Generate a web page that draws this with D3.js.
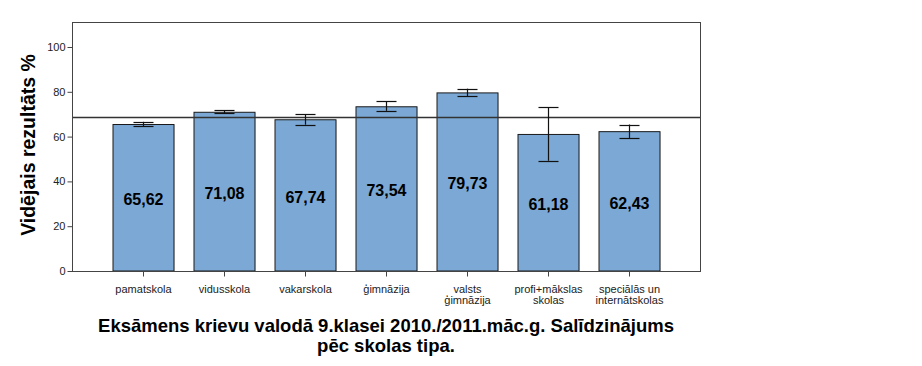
<!DOCTYPE html>
<html><head><meta charset="utf-8">
<script src="https://cdn.jsdelivr.net/npm/d3@7"></script>
<style>body{margin:0;background:#fff}svg{display:block}text{font-family:Arial,"Liberation Sans",sans-serif}</style>
</head><body>
<svg id="c" width="922" height="366"></svg>
<script>
const categories = [["pamatskola"],["vidusskola"],["vakarskola"],["ģimnāzija"],["valsts","ģimnāzija"],["profi+mākslas","skolas"],["speciālās un","internātskolas"]];
const values = [65.62, 71.08, 67.74, 73.54, 79.73, 61.18, 62.43];
const errLow = [64.6, 70.4, 65.3, 71.5, 78.1, 49.2, 59.4];
const errHigh = [66.6, 71.8, 70.1, 75.7, 81.4, 73.2, 65.4];
const refValue = 68.9;
const yTicks = [0, 20, 40, 60, 80, 100];
const title = ["Eksāmens krievu valodā 9.klasei 2010./2011.māc.g. Salīdzinājums", "pēc skolas tipa."];
const yTitle = "Vidējais rezultāts %";

const svg = d3.select("#c");
const L = 72, R = 700, T = 22, B = 271;
const x = d3.scaleBand().domain(d3.range(values.length)).range([L, R]).paddingInner(0.247).paddingOuter(0.5);
const y = d3.scaleLinear().domain([0, 100]).range([B, 47]);

// bars shadow + bars
const g = svg.append("g");
g.selectAll("rect.sh").data(values).join("rect")
  .attr("x", (d,i)=>x(i)+1).attr("y", d=>y(d)+1)
  .attr("width", x.bandwidth()).attr("height", d=>B-y(d))
  .attr("fill", "#9a9a9a").attr("opacity",0.5);
g.selectAll("rect.bar").data(values).join("rect")
  .attr("x", (d,i)=>x(i)+0.5).attr("y", d=>y(d)+0.5)
  .attr("width", x.bandwidth()).attr("height", d=>B-y(d)-0.5)
  .attr("fill", "#7ba8d5").attr("stroke", "#1a1a1a").attr("stroke-width", 1);

// value labels
g.selectAll("text.v").data(values).join("text")
  .attr("x", (d,i)=>x(i)+x.bandwidth()/2+0.5).attr("y", d=>y(d/2)+7.5)
  .attr("text-anchor","middle").attr("font-size","16px").attr("font-weight","bold").attr("fill","#000")
  .text(d=>d.toFixed(2).replace(".", ","));

// reference line
svg.append("line").attr("x1", L).attr("x2", R).attr("y1", Math.round(y(refValue))+0.5).attr("y2", Math.round(y(refValue))+0.5)
  .attr("stroke","#333").attr("stroke-width",1.5);

// error bars
const cx = i => Math.round(x(i)+x.bandwidth()/2)+0.5;
const eb = svg.append("g").attr("stroke","#111").attr("stroke-width",1.2);
values.forEach((v,i)=>{
  eb.append("line").attr("x1",cx(i)).attr("x2",cx(i)).attr("y1",y(errHigh[i])).attr("y2",y(errLow[i]));
  [errHigh[i], errLow[i]].forEach(e=>{
    eb.append("line").attr("x1",cx(i)-10).attr("x2",cx(i)+10).attr("y1",Math.round(y(e))+0.5).attr("y2",Math.round(y(e))+0.5);
  });
});

// frame
svg.append("rect").attr("x",L+0.5).attr("y",T+0.5).attr("width",R-L).attr("height",B-T)
  .attr("fill","none").attr("stroke","#444").attr("stroke-width",1);

// y axis
const ya = svg.append("g").attr("transform",`translate(${L+0.5},0)`)
  .call(d3.axisLeft(y).tickValues(yTicks).tickSize(5).tickPadding(2));
ya.select(".domain").remove();
ya.selectAll("line").attr("stroke","#444");
ya.selectAll("text").attr("font-size","11px").attr("fill","#222").attr("font-family","Arial,'Liberation Sans',sans-serif");

// x axis
const xa = svg.append("g").attr("transform",`translate(0,${B+0.5})`);
categories.forEach((c,i)=>{
  const xc = cx(i);
  xa.append("line").attr("x1",xc).attr("x2",xc).attr("y1",0).attr("y2",5).attr("stroke","#444");
  c.forEach((s,j)=>{
    xa.append("text").attr("x",xc).attr("y",21+j*11).attr("text-anchor","middle")
      .attr("font-size","11px").attr("fill","#222").text(s);
  });
});

// y title
svg.append("text").attr("transform",`translate(35,145) rotate(-90)`)
  .attr("text-anchor","middle").attr("font-size","19.5px").attr("font-weight","bold").text(yTitle);

// title
title.forEach((t,i)=>{
  svg.append("text").attr("x",(L+R)/2).attr("y",332+i*20).attr("text-anchor","middle")
    .attr("font-size","18.5px").attr("font-weight","bold").text(t);
});
</script>
</body></html>
